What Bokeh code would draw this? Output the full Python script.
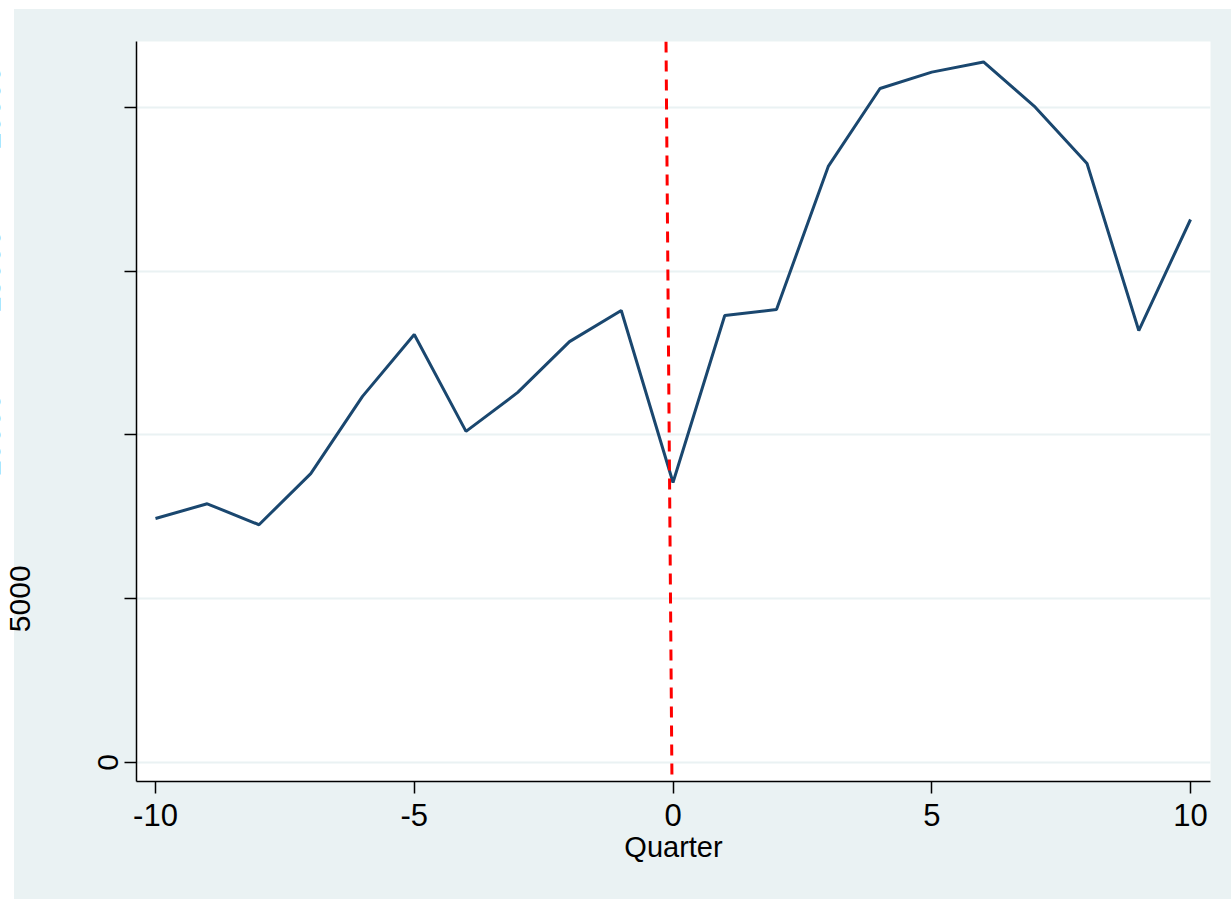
from bokeh.embed import file_html
from bokeh.models import FixedTicker, LinearAxis, Range1d
from bokeh.plotting import figure
from bokeh.resources import INLINE

# Quarterly series around the event (quarter 0)
quarters = list(range(-10, 11))
values = [7450, 7900, 7260, 8820, 11180, 13070, 10110, 11300, 12850, 13800,
          8550, 13650, 13830, 18200, 20580, 21080, 21390, 20010, 18290, 13190, 16580]

x_ticks = [-10, -5, 0, 5, 10]
x_tick_labels = ["-10", "-5", "0", "5", "10"]
y_ticks = [0, 5000, 10000, 15000, 20000]
y_tick_labels = ["0", "5000", "10000", "15000", "20000"]

# event marker line (quarter 0), drawn top to bottom of the frame
event_x = [-0.135, -0.02]

X_MIN, X_MAX = -10.367, 10.386
Y_MIN, Y_MAX = -580, 22015

SHIFT = 40              # canvas starts this far left of the page edge
W, H = 1231 + SHIFT, 899

FONT = "Liberation Sans"
BG = "#eaf2f3"
NAVY = "#1a476f"

page_style = {
    "margin-left": f"-{SHIFT}px",
    "background-color": "white",
    "background-image": f"linear-gradient({BG}, {BG})",
    "background-repeat": "no-repeat",
    "background-position": f"{SHIFT + 14}px 9px",
    "background-size": "100% 100%",
}

p = figure(
    width=W, height=H,
    output_backend="svg", toolbar_location=None,
    x_range=Range1d(X_MIN, X_MAX), y_range=Range1d(Y_MIN, Y_MAX),
    min_border_left=136 + SHIFT, min_border_right=21,
    min_border_top=41, min_border_bottom=118,
    border_fill_color=None, background_fill_color="white",
    outline_line_color=None,
    styles=page_style,
)

# grid
p.xgrid.visible = False
p.ygrid.ticker = FixedTicker(ticks=y_ticks)
p.ygrid.grid_line_color = BG
p.ygrid.grid_line_width = 2

# axes
for ax in (p.xaxis[0], p.yaxis[0]):
    ax.axis_line_color = "black"
    ax.axis_line_width = 1.5
    ax.major_tick_line_color = "black"
    ax.major_tick_line_width = 1.5
    ax.major_tick_out = 12
    ax.major_tick_in = 0
    ax.minor_tick_line_color = None

p.xaxis.ticker = FixedTicker(ticks=x_ticks)
p.xaxis.major_label_overrides = dict(zip(x_ticks, x_tick_labels))
p.xaxis.major_label_text_font = FONT
p.xaxis.major_label_text_font_size = "31px"
p.xaxis.major_label_text_color = "black"
p.xaxis.major_label_standoff = 10
p.xaxis.axis_label = "Quarter"
p.xaxis.axis_label_text_font = FONT
p.xaxis.axis_label_text_font_size = "29px"
p.xaxis.axis_label_text_font_style = "normal"
p.xaxis.axis_label_text_color = "black"
p.xaxis.axis_label_standoff = 2


def style_y_labels(ax, standoff):
    ax.major_label_orientation = "vertical"
    ax.major_label_standoff = standoff
    ax.major_label_text_font = FONT
    ax.major_label_text_font_size = "30px"
    ax.major_label_text_color = "black"


# y axis: the innermost one carries the line, the ticks and the "0" label;
# the other tick labels sit on label-only axes stacked further out
main_y = p.yaxis[0]
main_y.ticker = FixedTicker(ticks=y_ticks)
main_y.major_label_overrides = {t: (lab if t == 0 else "") for t, lab in zip(y_ticks, y_tick_labels)}
style_y_labels(main_y, 6)

groups = [([5000], 65), ([10000, 15000, 20000], 7)]
for ticks, standoff in groups:
    extra = LinearAxis(ticker=FixedTicker(ticks=ticks),
                       major_label_overrides={t: lab for t, lab in zip(y_ticks, y_tick_labels) if t in ticks},
                       axis_line_color=None, major_tick_line_color=None,
                       minor_tick_line_color=None, major_tick_out=0, major_tick_in=0)
    style_y_labels(extra, standoff)
    p.add_layout(extra, "left")

p.line(quarters, values, line_color=NAVY, line_width=3)
p.line(event_x, [Y_MAX, Y_MIN], line_color="red", line_width=3, line_dash="11 8")

open("out.html", "w").write(file_html(p, INLINE))
